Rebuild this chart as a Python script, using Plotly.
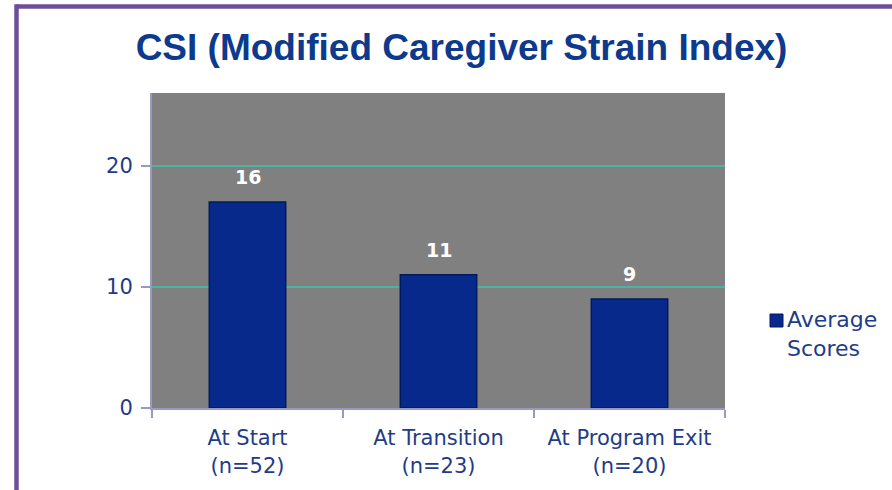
import plotly.graph_objects as go

categories = ["At Start<br>(n=52)", "At Transition<br>(n=23)", "At Program Exit<br>(n=20)"]
values = [17, 11, 9]
value_labels = ["16", "11", "9"]
series_name = "Average<br>Scores"
y_ticks = [0, 10, 20]

W, H = 892, 490
L, R, T, B = 152, 725, 93, 408
TXT = "#1F3C88"
BAR = "#08298C"
FONT = "DejaVu Sans"

fig = go.Figure()
fig.add_trace(go.Bar(
    x=categories, y=values, name=series_name, width=0.4,
    marker=dict(color=BAR, line=dict(color="#011A5E", width=1.5)),
    showlegend=False,
))
for c, v, t in zip(categories, values, value_labels):
    fig.add_annotation(x=c, y=v, text=f"<b>{t}</b>", showarrow=False,
                       yshift=25, font=dict(color="white", size=19, family=FONT))

def px_x(p):
    return (p - L) / (R - L)

def px_y(p):
    return (B - p) / (B - T)

# purple frame
fig.add_shape(type="line", xref="paper", yref="paper",
              x0=px_x(16.5), x1=px_x(900), y0=px_y(6.5), y1=px_y(6.5),
              line=dict(color="#6E4E99", width=4.5))
fig.add_shape(type="line", xref="paper", yref="paper",
              x0=px_x(16.5), x1=px_x(16.5), y0=px_y(4.3), y1=px_y(495),
              line=dict(color="#6E4E99", width=4.5))

# legend (drawn manually so it does not push the plot margin)
fig.add_shape(type="rect", xref="paper", yref="paper",
              x0=px_x(770), x1=px_x(783), y0=px_y(327), y1=px_y(314),
              fillcolor=BAR, line=dict(color="#011A5E", width=1))
fig.add_annotation(xref="paper", yref="paper", x=px_x(785), y=px_y(334),
                   xanchor="left", yanchor="middle", align="left", showarrow=False,
                   text=series_name, font=dict(size=22, color=TXT, family=FONT))

fig.update_layout(
    width=W, height=H,
    margin=dict(l=L, r=W - R, t=T, b=H - B),
    paper_bgcolor="white", plot_bgcolor="#808080",
    title=dict(text="<b>CSI (Modified Caregiver Strain Index)</b>",
               x=(133 + 790) / 2 / W, xanchor="center", y=1 - 47 / H, yanchor="middle",
               font=dict(family="Liberation Sans", size=37, color="#0D3A8C")),
    font=dict(family=FONT, color=TXT),
    bargap=0.6,
    showlegend=False,
)
fig.update_yaxes(range=[0, 26], tickvals=y_ticks, showgrid=True, gridcolor="#4DB3A0",
                 gridwidth=1.5, zeroline=False, showline=True, linecolor="#9A9AC0",
                 linewidth=2, ticks="outside", ticklen=9, tickcolor="#9A9AC0", tickwidth=2,
                 tickfont=dict(size=21, color=TXT, family=FONT), ticklabelstandoff=4)
fig.update_xaxes(showline=True, linecolor="#9A9AC0", linewidth=2, ticks="outside",
                 tickson="boundaries", ticklen=8, tickcolor="#9A9AC0", tickwidth=2,
                 tickfont=dict(size=21, color=TXT, family=FONT), showgrid=False,
                 ticklabelstandoff=10)

fig.write_html("out.html", config={"displayModeBar": False},
               post_script="document.body.style.margin='0px';document.body.style.overflow='hidden';")
